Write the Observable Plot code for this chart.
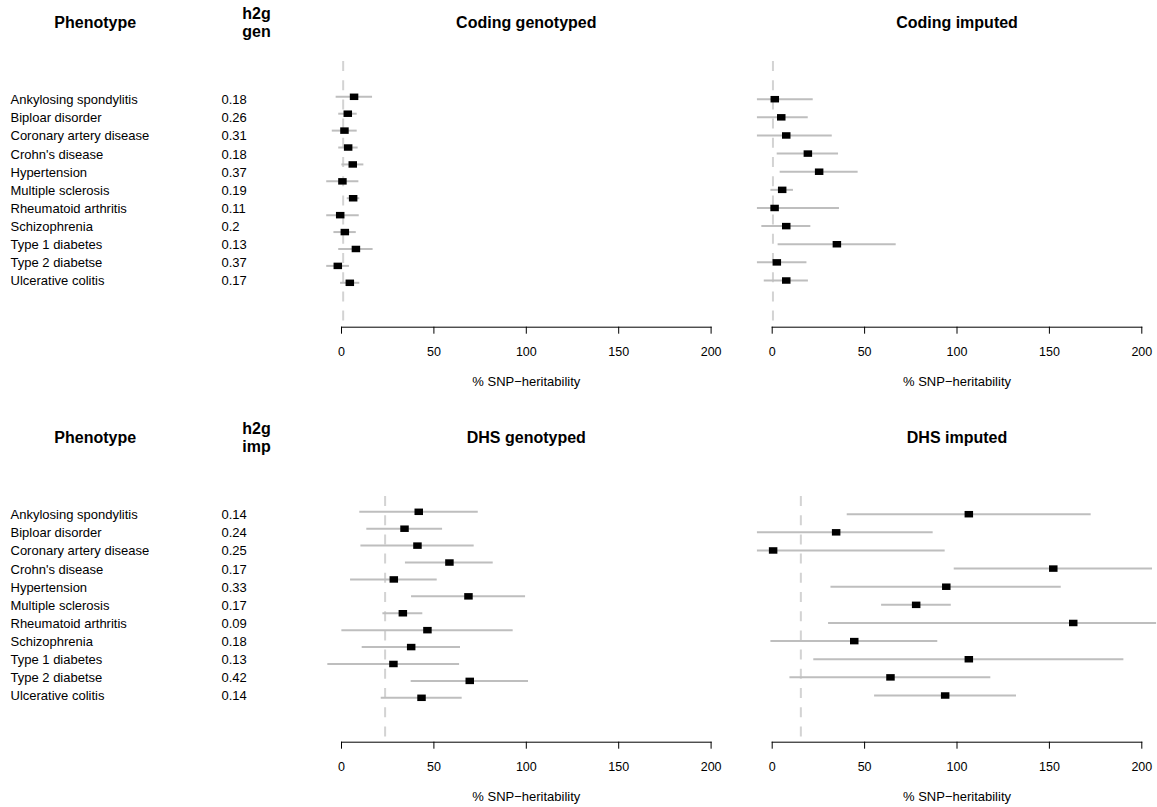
<!DOCTYPE html>
<html><head><meta charset="utf-8">
<script src="https://cdn.jsdelivr.net/npm/d3@7"></script>
<script src="https://cdn.jsdelivr.net/npm/@observablehq/plot@0.6"></script>
<style>
body{margin:0;background:#fff;}
#chart{position:relative;width:1157px;height:807px;overflow:hidden;background:#fff;}
</style></head><body><div id="chart"></div>
<script>
// ---------- data ----------
const phenotypes = ["Ankylosing spondylitis","Biploar disorder","Coronary artery disease","Crohn's disease","Hypertension","Multiple sclerosis","Rheumatoid arthritis","Schizophrenia","Type 1 diabetes","Type 2 diabetse","Ulcerative colitis"];
const h2gGen = ["0.18","0.26","0.31","0.18","0.37","0.19","0.11","0.2","0.13","0.37","0.17"];
const h2gImp = ["0.14","0.24","0.25","0.17","0.33","0.17","0.09","0.18","0.13","0.42","0.14"];
const xTicks = [0, 50, 100, 150, 200];
const xLabel = "% SNP\u2212heritability";

// Coding genotyped (12 estimates drawn in the original)
const codingGenEst = [6.8, 3.4, 1.6, 3.6, 6.1, 0.5, 6.3, -0.7, 1.8, 7.8, -2.0, 4.5];
const codingGenLo  = [-2.9, -1.5, -5.0, -1.5, 0.2, -8, 3.1, -8, -4.1, -1.5, -8, -0.5];
const codingGenHi  = [16.8, 8.5, 8.5, 9.0, 12.1, 9.4, 9.9, 9.6, 8.0, 17.1, 4.3, 9.9];
const codingGenRef = 0.9;

// Coding imputed
const codingImpEst = [1.4, 4.9, 7.6, 19.3, 25.4, 5.4, 1.3, 7.6, 35.0, 2.5, 7.6];
const codingImpLo  = [-8, -8, -8, 2.7, 4.3, -0.7, -8, -5.6, 3.2, -8, -4.3];
const codingImpHi  = [22.2, 19.5, 32.5, 35.9, 46.5, 11.5, 36.4, 20.9, 67.1, 18.8, 19.6];
const codingImpRef = 0.4;

// DHS genotyped (12 estimates drawn in the original)
const dhsGenEst = [41.8, 34.1, 41.1, 58.4, 28.3, 68.7, 33.2, 46.5, 37.7, 28.1, 69.4, 43.3];
const dhsGenLo  = [9.9, 13.7, 10.5, 34.6, 4.9, 37.9, 22.4, 0.2, 11.2, -7.4, 37.7, 21.5];
const dhsGenHi  = [74.0, 54.7, 71.8, 82.1, 51.8, 99.6, 44.0, 92.9, 64.4, 63.9, 101.2, 65.3];
const dhsGenRef = 23.6;

// DHS imputed
const dhsImpEst = [106.4, 34.6, 0.5, 152.1, 94.2, 77.9, 162.9, 44.4, 106.4, 64.0, 93.6];
const dhsImpLo  = [40.6, -8, -8, 98.5, 31.8, 59.2, 30.5, -0.7, 22.5, 9.6, 55.4];
const dhsImpHi  = [172.6, 87.1, 93.6, 205.8, 156.4, 96.9, 208, 89.6, 190.3, 118.3, 132.2];
const dhsImpRef = 15.5;

// ---------- helpers ----------
const FONT = '"Liberation Sans", Arial, Helvetica, sans-serif';
const baseStyle = {fontFamily: FONT, background: "transparent", maxWidth: "none", overflow: "visible", color: "black"};
const box = {draw(ctx) { ctx.moveTo(-4.25, -3.25); ctx.lineTo(4.25, -3.25); ctx.lineTo(4.25, 3.25); ctx.lineTo(-4.25, 3.25); ctx.closePath(); }};
const chart = document.getElementById("chart");

function place(svg, left, top) {
  svg.style.position = "absolute";
  svg.style.left = left + "px";
  svg.style.top = top + "px";
  chart.appendChild(svg);
}

function forest(o) {
  const rows = o.est.map((e, i) => ({row: i + 1, est: e, lo: o.lo[i], hi: o.hi[i]}));
  const svg = Plot.plot({
    width: o.width, height: o.height,
    marginTop: o.mt, marginBottom: o.mb, marginLeft: o.ml, marginRight: o.mr,
    style: baseStyle,
    x: {domain: [0, 200], axis: null},
    y: {domain: [1, rows.length], range: o.yRange, axis: null},
    marks: [
      Plot.ruleX([o.ref], {stroke: "#d3d3d3", strokeWidth: 2, strokeDasharray: "10,9.2"}),
      Plot.ruleY(rows, {y: "row", x1: "lo", x2: "hi", stroke: "#bebebe", strokeWidth: 2}),
      Plot.dot(rows, {x: "est", y: "row", symbol: box, fill: "black"}),
      Plot.frame({anchor: "bottom", stroke: "black"}),
      Plot.axisX(xTicks, {tickSize: 7, tickPadding: 13, fontSize: 12.5, label: null}),
      Plot.text([o.title], {frameAnchor: "top", dy: o.titleDy, lineAnchor: "bottom", fontWeight: "bold", fontSize: 16}),
      Plot.text([xLabel], {frameAnchor: "bottom", dy: 58.3, lineAnchor: "bottom", fontSize: 13})
    ]
  });
  place(svg, o.left, o.top);
}

function labels(o) {
  const rows = phenotypes.map((p, i) => ({row: i + 1, name: p, h2g: o.values[i]}));
  const svg = Plot.plot({
    width: 300, height: o.height, margin: 0,
    style: baseStyle,
    x: {type: "point", domain: ["name", "h2g"], range: [10, 221], padding: 0, axis: null},
    y: {domain: [1, rows.length], range: o.yRange, axis: null},
    marks: [
      Plot.text(rows, {x: () => "name", y: "row", text: "name", textAnchor: "start", fontSize: 13}),
      Plot.text(rows, {x: () => "h2g", y: "row", text: "h2g", textAnchor: "start", fontSize: 13}),
      Plot.text(["Phenotype"], {frameAnchor: "top-left", dx: 94.7, dy: o.phenoDy, textAnchor: "middle", lineAnchor: "bottom", fontWeight: "bold", fontSize: 16}),
      Plot.text([o.header], {frameAnchor: "top-left", dx: 256, dy: o.headerDy, textAnchor: "middle", lineAnchor: "bottom", lineHeight: 1.09, fontWeight: "bold", fontSize: 16})
    ]
  });
  place(svg, 0, o.top);
}

// ---------- top half ----------
labels({values: h2gGen, header: "h2g\ngen", top: 0, height: 403, yRange: [99.6, 280.4], phenoDy: 27.5, headerDy: 36});
forest({est: codingGenEst, lo: codingGenLo, hi: codingGenHi, ref: codingGenRef, title: "Coding genotyped",
  left: 300, top: 0, width: 430, height: 403, mt: 61, mb: 76.3, ml: 41, mr: 19.4, yRange: [96.3, 282.3], titleDy: -33.5});
forest({est: codingImpEst, lo: codingImpLo, hi: codingImpHi, ref: codingImpRef, title: "Coding imputed",
  left: 730, top: 0, width: 427, height: 403, mt: 61, mb: 76.3, ml: 41.7, mr: 15.7, yRange: [98.7, 280], titleDy: -33.5});

// ---------- bottom half ----------
labels({values: h2gImp, header: "h2g\nimp", top: 403, height: 404, yRange: [111.6, 292.4], phenoDy: 39.3, headerDy: 48});
forest({est: dhsGenEst, lo: dhsGenLo, hi: dhsGenHi, ref: dhsGenRef, title: "DHS genotyped",
  left: 300, top: 403, width: 430, height: 404, mt: 93, mb: 65.3, ml: 41, mr: 19.4, yRange: [108.3, 294.3], titleDy: -53.7});
forest({est: dhsImpEst, lo: dhsImpLo, hi: dhsImpHi, ref: dhsImpRef, title: "DHS imputed",
  left: 730, top: 403, width: 427, height: 404, mt: 93, mb: 65.3, ml: 41.7, mr: 15.7, yRange: [110.7, 292], titleDy: -53.7});
</script></body></html>
